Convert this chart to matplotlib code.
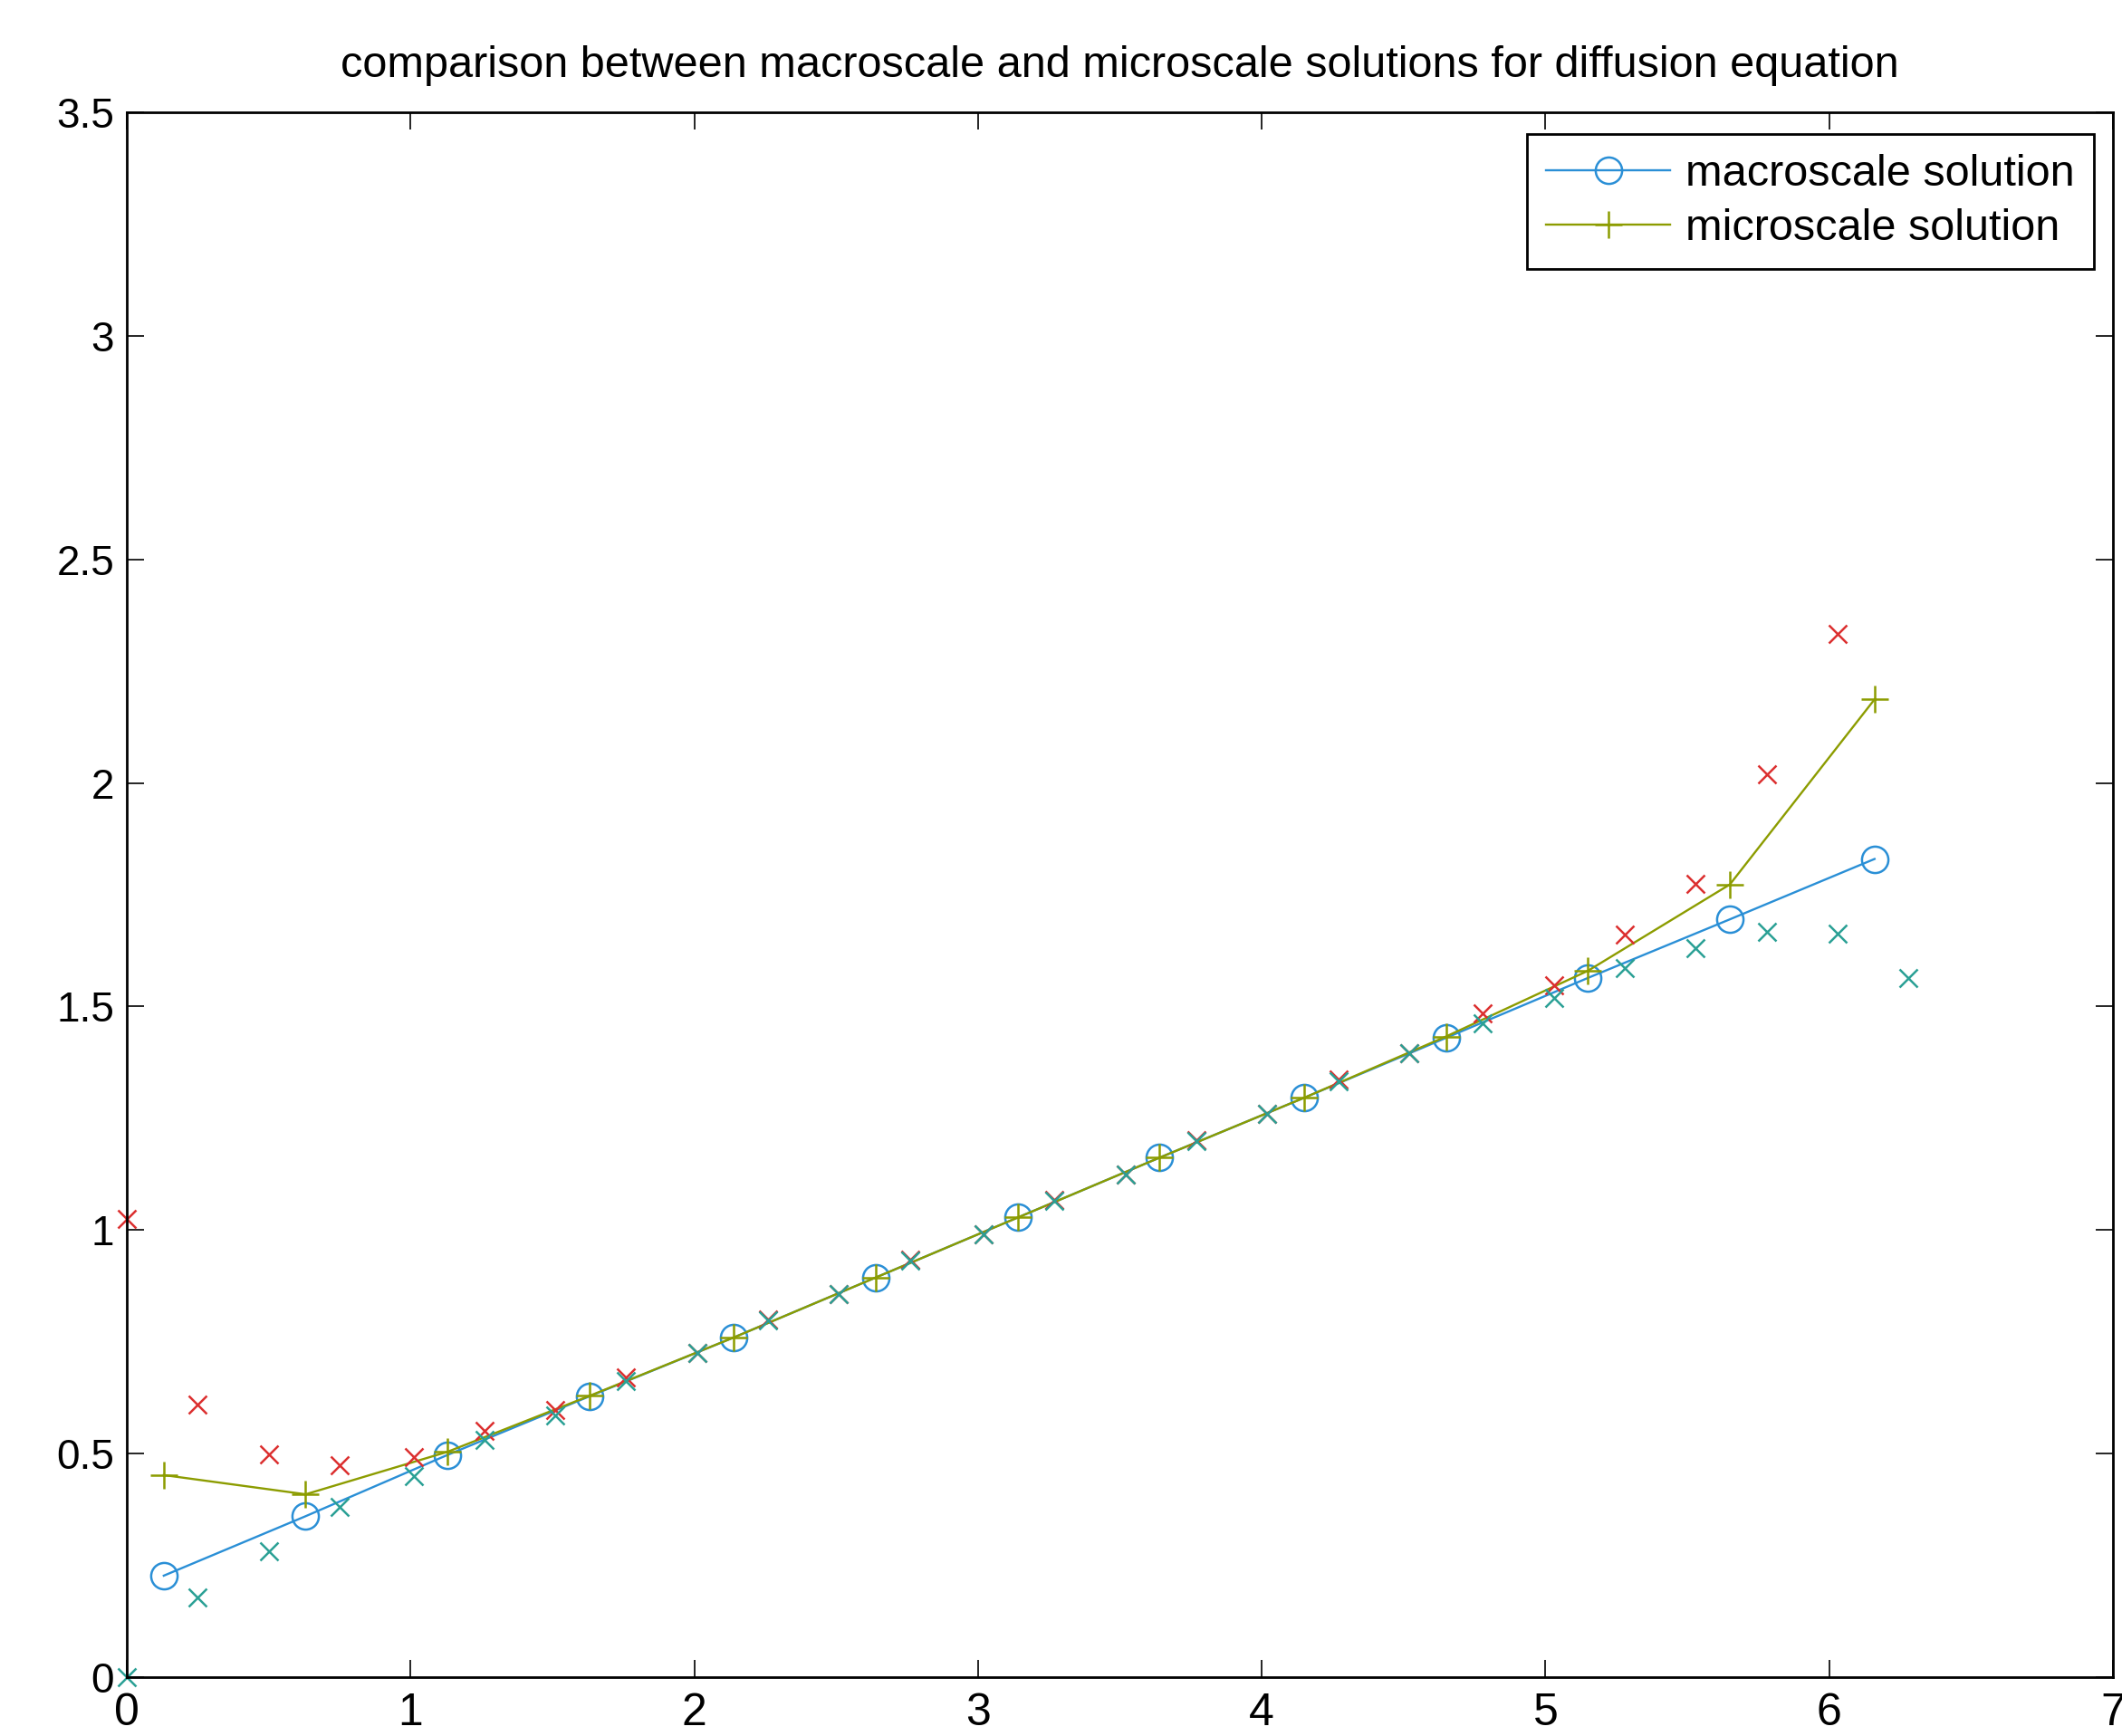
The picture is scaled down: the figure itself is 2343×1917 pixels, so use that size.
import matplotlib
matplotlib.use("Agg")
import matplotlib.pyplot as plt

# macroscale grid points and values
macro_x = [0.13, 0.63, 1.13, 1.63, 2.14, 2.64, 3.14, 3.64, 4.15, 4.65, 5.15, 5.65, 6.16]
macro_y = [0.227, 0.360, 0.497, 0.628, 0.760, 0.894, 1.028, 1.162, 1.296, 1.430, 1.564, 1.695, 1.830]
micro_y = [0.452, 0.409, 0.504, 0.629, 0.760, 0.894, 1.028, 1.162, 1.296, 1.433, 1.580, 1.773, 2.187]

# patch edge values (red / teal crosses)
patch_x = [0.0, 0.25, 0.50, 0.75, 1.01, 1.26, 1.51, 1.76, 2.01, 2.26, 2.51, 2.76, 3.02,
           3.27, 3.52, 3.77, 4.02, 4.27, 4.52, 4.78, 5.03, 5.28, 5.53, 5.78, 6.03, 6.28]
red_y = [1.025, 0.610, 0.499, 0.474, 0.492, 0.551, 0.597, 0.670, 0.725, 0.800, 0.857, 0.933, 0.991,
         1.067, 1.125, 1.201, 1.260, 1.336, 1.396, 1.484, 1.547, 1.661, 1.774, 2.019, 2.333]
green_y = [0.0, 0.179, 0.281, 0.380, 0.449, 0.531, 0.585, 0.663, 0.725, 0.798, 0.857, 0.931, 0.991,
           1.066, 1.125, 1.200, 1.260, 1.333, 1.395, 1.462, 1.520, 1.585, 1.631, 1.668, 1.662, 1.564]

BLUE = '#2a8fd6'
OLIVE = '#8c9c00'
RED = '#dc2f2f'
TEAL = '#2aa095'

plt.rcParams['font.family'] = ['Liberation Sans', 'DejaVu Sans']

fig = plt.figure(figsize=(23.43, 19.17), dpi=100)
ax = fig.add_axes([0.0598, 0.0339, 0.9359, 0.9014])

ax.plot(macro_x, macro_y, '-o', color=BLUE, lw=1.7, ms=21, mfc='none', mew=1.8,
        label='macroscale solution')
ax.plot(macro_x, micro_y, '-+', color=OLIVE, lw=1.7, ms=21, mew=1.8,
        label='microscale solution')
ax.plot(patch_x[:len(red_y)], red_y, 'x', color=RED, ms=14, mew=1.8, clip_on=False)
ax.plot(patch_x, green_y, 'x', color=TEAL, ms=14, mew=1.8, clip_on=False)

ax.set_xlim(0, 7)
ax.set_ylim(0, 3.5)
ax.set_xticks(range(0, 8))
ax.set_yticks([0, 0.5, 1, 1.5, 2, 2.5, 3, 3.5])
ax.set_yticklabels(['0', '0.5', '1', '1.5', '2', '2.5', '3', '3.5'])
ax.tick_params(direction='in', length=14, width=1.2, top=True, right=True, pad=10)
ax.tick_params(axis='y', labelsize=33)
ax.tick_params(axis='x', labelsize=36, pad=12)
for s in ax.spines.values():
    s.set_linewidth(2)

ax.set_title('comparison between macroscale and microscale solutions for diffusion equation',
             fontsize=35, pad=28)

leg = ax.legend(loc='upper right', fontsize=35, fancybox=False, framealpha=1,
                edgecolor='black', borderpad=0.45, labelspacing=0.3,
                handlelength=2.8, handletextpad=0.35, borderaxespad=0,
                bbox_to_anchor=(0.9905, 0.986))
leg.get_frame().set_linewidth(2)

fig.savefig('out.png', dpi=100)
